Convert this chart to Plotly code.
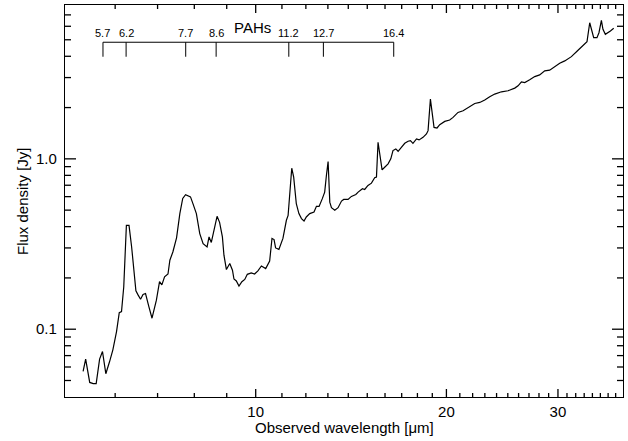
import math
import plotly.graph_objects as go

# ---- data (observed wavelength in micron, flux density in Jy)
wavelength_um = [5.34,5.39,5.47,5.54,5.60,5.67,5.73,5.80,5.88,5.95,
                 6.03,6.09,6.14,6.19,6.25,6.31,6.37,6.47,6.52,6.58,
                 6.64,6.70,6.78,6.86,6.97,7.05,7.11,7.18,7.27,7.32,
                 7.40,7.50,7.59,7.67,7.75,7.89,7.96,8.06,8.16,8.26,
                 8.38,8.44,8.51,8.59,8.69,8.77,8.86,8.91,8.99,9.10,
                 9.19,9.24,9.32,9.41,9.51,9.61,9.70,9.84,9.96,10.08,
                 10.21,10.37,10.52,10.61,10.69,10.75,10.88,11.04,11.18,11.25,
                 11.35,11.40,11.48,11.59,11.70,11.81,11.92,12.02,12.17,12.36,
                 12.47,12.59,12.74,12.85,12.93,13.01,13.09,13.17,13.33,13.49,
                 13.66,13.77,13.99,14.16,14.39,14.51,14.74,14.86,15.04,15.23,
                 15.41,15.51,15.60,15.74,15.83,15.98,16.18,16.34,16.47,16.64,
                 16.78,16.98,17.19,17.40,17.55,17.71,17.94,18.11,18.37,18.60,
                 18.71,18.87,19.01,19.12,19.33,19.52,19.88,20.24,20.49,20.86,
                 21.25,21.56,21.90,22.17,22.58,22.99,23.41,23.84,24.43,25.02,
                 25.64,25.95,26.27,26.59,27.07,27.57,28.07,28.59,29.11,29.65,
                 30.19,30.75,31.50,32.27,32.86,33.34,33.67,33.88,34.16,34.57,
                 34.82,35.13,35.33,35.64,35.98,36.30,36.74]

flux_jy = [0.0565,0.0668,0.0487,0.0479,0.0479,0.0668,0.0740,0.0548,0.0646,0.0757,
           0.0968,0.125,0.127,0.177,0.407,0.407,0.304,0.168,0.159,0.150,
           0.160,0.162,0.136,0.116,0.148,0.190,0.182,0.203,0.211,0.254,
           0.284,0.344,0.477,0.586,0.616,0.598,0.546,0.477,0.364,0.318,
           0.304,0.348,0.323,0.381,0.460,0.424,0.348,0.272,0.224,0.243,
           0.222,0.197,0.192,0.179,0.190,0.196,0.210,0.214,0.211,0.220,
           0.235,0.227,0.251,0.341,0.336,0.300,0.294,0.341,0.436,0.466,
           0.747,0.881,0.781,0.546,0.477,0.446,0.432,0.456,0.477,0.487,
           0.526,0.526,0.584,0.638,0.799,0.964,0.557,0.517,0.499,0.517,
           0.565,0.578,0.578,0.602,0.618,0.638,0.668,0.661,0.698,0.720,
           0.774,0.781,1.251,1.000,0.862,0.893,0.935,1.000,1.118,1.144,
           1.108,1.169,1.234,1.268,1.280,1.234,1.309,1.292,1.338,1.400,
           1.464,2.243,1.751,1.530,1.518,1.587,1.659,1.691,1.751,1.873,
           1.916,1.987,2.050,2.114,2.143,2.213,2.314,2.400,2.475,2.509,
           2.602,2.684,2.832,2.805,2.909,3.041,3.112,3.284,3.315,3.466,
           3.642,3.757,3.981,4.340,4.599,4.872,6.293,5.757,5.141,5.141,
           5.500,6.500,5.757,5.383,5.500,5.627,5.836]

# PAH features (rest wavelength labels) and the source redshift used to place them
pah_labels = ["5.7", "6.2", "7.7", "8.6", "11.2", "12.7", "16.4"]
pah_rest_um = [5.7, 6.2, 7.7, 8.6, 11.2, 12.7, 16.4]
redshift = 0.007

# axis ticks
x_major = [10, 20, 30]
x_major_text = ["10", "20", "30"]
x_minor = [6, 7, 8, 9, 11, 12, 13, 14, 15, 16, 17, 18, 19,
           21, 22, 23, 24, 25, 26, 27, 28, 29, 31, 32, 33, 34, 35, 36, 37]
y_major = [0.1, 1.0]
y_major_text = ["0.1", "1.0"]
y_minor = [0.05, 0.06, 0.07, 0.08, 0.09, 0.2, 0.3, 0.4, 0.5, 0.6, 0.7, 0.8, 0.9,
           2, 3, 4, 5, 6, 7]
x_range = [5, 38]
y_range = [0.04, 8]

FONT = "Liberation Sans, Arial, Helvetica, sans-serif"
PLOT_W, PLOT_H = 558, 392          # plot-area size in px (628-65-5, 441-5-44)


def frac_to_x(f):
    lo, hi = math.log10(x_range[0]), math.log10(x_range[1])
    return 10 ** (lo + f * (hi - lo))


def frac_to_y(f):
    lo, hi = math.log10(y_range[0]), math.log10(y_range[1])
    return 10 ** (lo + f * (hi - lo))


fig = go.Figure()
fig.add_trace(go.Scatter(x=wavelength_um, y=flux_jy, mode="lines",
                         line=dict(color="black", width=1.2), showlegend=False,
                         hoverinfo="skip"))

# PAH bracket (drawn through the data axes)
pah_obs = [w * (1 + redshift) for w in pah_rest_um]
bar_frac, tick_frac, lab_frac = 0.905, 0.868, 0.928
bx, by = [pah_obs[0], pah_obs[-1], None], [frac_to_y(bar_frac), frac_to_y(bar_frac), None]
for w in pah_obs:
    bx += [w, w, None]
    by += [frac_to_y(bar_frac), frac_to_y(tick_frac), None]
fig.add_trace(go.Scatter(x=bx, y=by, mode="lines", line=dict(color="black", width=1),
                         showlegend=False, hoverinfo="skip"))
for w, lab in zip(pah_obs, pah_labels):
    fig.add_annotation(x=math.log10(w), y=lab_frac, xref="x", yref="paper", text=lab,
                       showarrow=False, xanchor="center", yanchor="middle",
                       font=dict(family=FONT, size=11, color="black"))
fig.add_annotation(x=0.3357, y=0.943, xref="paper", yref="paper", text="PAHs",
                   showarrow=False, xanchor="center", yanchor="middle",
                   font=dict(family=FONT, size=15, color="black"))

# inward tick marks on all four sides (IDL style), placed through the data axes
tx, ty = [], []
for vals, length in ((x_major, 8), (x_minor, 4)):
    f = length / PLOT_H
    for v in vals:
        tx += [v, v, None, v, v, None]
        ty += [frac_to_y(0), frac_to_y(f), None, frac_to_y(1), frac_to_y(1 - f), None]
for vals, length in ((y_major, 11), (y_minor, 6)):
    f = length / PLOT_W
    for v in vals:
        tx += [frac_to_x(0), frac_to_x(f), None, frac_to_x(1), frac_to_x(1 - f), None]
        ty += [v, v, None, v, v, None]
fig.add_trace(go.Scatter(x=tx, y=ty, mode="lines", line=dict(color="black", width=1.3),
                         showlegend=False, hoverinfo="skip", cliponaxis=False))

axis_common = dict(type="log", showgrid=False, zeroline=False, showline=True,
                   linecolor="black", linewidth=1.4, mirror=True, ticks="",
                   tickfont=dict(family=FONT, size=15, color="black"))

fig.update_xaxes(**axis_common, range=[math.log10(v) for v in x_range],
                 tickmode="array", tickvals=x_major, ticktext=x_major_text,
                 ticklabelstandoff=1)
fig.update_yaxes(**axis_common, range=[math.log10(v) for v in y_range],
                 tickmode="array", tickvals=y_major, ticktext=y_major_text,
                 ticklabelstandoff=4)

# axis titles
fig.add_annotation(x=0.5, y=-0.079, xref="paper", yref="paper",
                   text="Observed wavelength [μm]", showarrow=False,
                   xanchor="center", yanchor="middle",
                   font=dict(family=FONT, size=15, color="black"))
fig.add_annotation(x=-0.077, y=0.5, xref="paper", yref="paper",
                   text="Flux density [Jy]", showarrow=False, textangle=-90,
                   xanchor="center", yanchor="middle",
                   font=dict(family=FONT, size=15, color="black"))

fig.update_layout(width=628, height=441,
                  margin=dict(l=65, r=5, t=5, b=44, autoexpand=False),
                  paper_bgcolor="white", plot_bgcolor="white",
                  font=dict(family=FONT, size=15, color="black"))

fig.write_html("out.html", config={"displayModeBar": False},
               post_script="document.body.style.margin='0px';")
